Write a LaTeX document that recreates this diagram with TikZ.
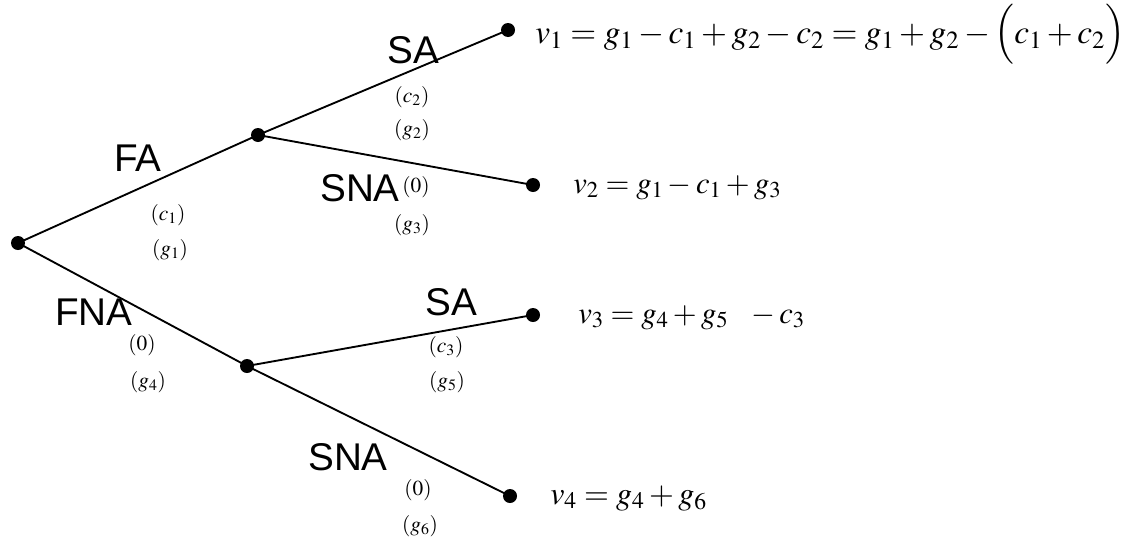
\documentclass[tikz,border=0pt]{standalone}
\usepackage{mathptmx}
\usepackage[no-math]{fontspec}
\setsansfont{Liberation Sans}
\usetikzlibrary{positioning}
\tikzset{
treedot/.style={circle,fill=black,inner sep=0pt,minimum size=10.5pt},
treeline/.style={line width=1.4pt},
movelbl/.style={font=\sffamily\fontsize{29}{34}\selectfont,inner sep=0pt},
costlbl/.style={font=\fontsize{16}{19}\selectfont,inner sep=0pt},
payoff/.style={font=\fontsize{23}{28}\selectfont,inner sep=0pt,anchor=base west}
}

\begin{document}
\begin{tikzpicture}[x=0.75pt,y=-0.75pt]
\useasboundingbox (0,0) rectangle (1123,543);
% decision nodes
\node[treedot] (root) at (18,243) {};
\node[treedot] (up) at (258,135) {};
\node[treedot] (dn) at (247,366) {};
\node[treedot] (e1) at (508,30) {};
\node[treedot] (e2) at (533,185) {};
\node[treedot] (e3) at (533,315) {};
\node[treedot] (e4) at (510,496) {};
% branches
\draw[treeline] (root.center) -- (up.center);
\draw[treeline] (root.center) -- (dn.center);
\draw[treeline] (up.center) -- (e1.center);
\draw[treeline] (up.center) -- (e2.center);
\draw[treeline] (dn.center) -- (e3.center);
\draw[treeline] (dn.center) -- (e4.center);
% moves
\node[movelbl] (fa) at (138,158) {FA};
\node[movelbl] (fna) at (94,312) {FNA};
\node[movelbl] (sa1) at (413,50) {SA};
\node[movelbl] (sna1) at (360,188) {SNA};
\node[movelbl] (sa2) at (451,302) {SA};
\node[movelbl] (sna2) at (348,457) {SNA};
% costs and gains
\node[costlbl] (c1) at (168,215) {$(c_1)$};
\node[costlbl] (g1) at (170,250) {$(g_1)$};
\node[costlbl] (z1) at (142,345) {$(0)$};
\node[costlbl] (g4) at (148,382) {$(g_4)$};
\node[costlbl] (c2) at (412,97) {$(c_2)$};
\node[costlbl] (g2) at (412,130) {$(g_2)$};
\node[costlbl] (z2) at (416,187) {$(0)$};
\node[costlbl] (g3) at (412,225) {$(g_3)$};
\node[costlbl] (c3) at (446,347) {$(c_3)$};
\node[costlbl] (g5) at (447,382) {$(g_5)$};
\node[costlbl] (z3) at (418,490) {$(0)$};
\node[costlbl] (g6) at (420,526) {$(g_6)$};
% payoffs
\node[payoff,font=\fontsize{25}{30}\selectfont] (v1) at (535,43) {$v_1=g_1-c_1+g_2-c_2=g_1+g_2-\Bigl(c_1+c_2\Bigr)$};
\node[payoff] (v2) at (573,193) {$v_2=g_1-c_1+g_3$};
\node[payoff] (v3) at (578,323) {$v_3=g_4+g_5\ \ -c_3$};
\node[payoff,font=\fontsize{24}{29}\selectfont] (v4) at (550,504) {$v_4=g_4+g_6$};
\end{tikzpicture}
\end{document}
